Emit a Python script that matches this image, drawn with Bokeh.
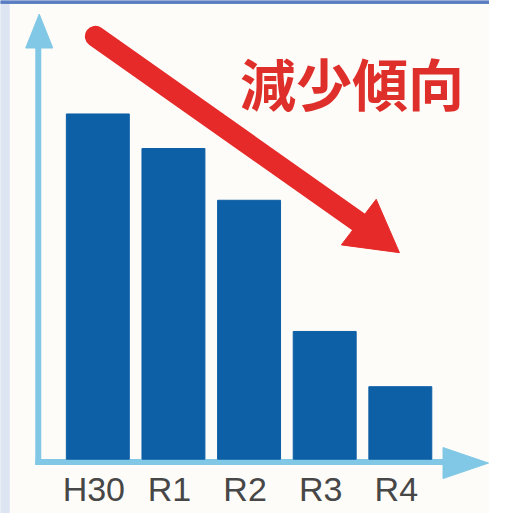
from bokeh.plotting import figure
from bokeh.models import Range1d
from bokeh.core.properties import value
from bokeh.embed import file_html
from bokeh.resources import INLINE

# Data
categories = ["H30", "R1", "R2", "R3", "R4"]
values = [100, 90, 75, 37, 21]
title_text = "減少傾向"

# Coordinate helpers (reference-pixel -> data) used only for decorations
X0, XSTEP = 100.5, 78.1      # px of first bar centre, px per category
Y0, YSTEP = 473.0, 3.56      # px of baseline, px per value unit


def dx(px):
    return (px - X0) / XSTEP


def dy(py):
    return (Y0 - py) / YSTEP


W, H = 489, 513
p = figure(width=W, height=H, output_backend="svg", toolbar_location=None,
           x_range=Range1d(dx(0), dx(505)), y_range=Range1d(dy(529), dy(0)),
           min_border=0)
p.axis.visible = False
p.grid.visible = False
p.outline_line_color = None
p.background_fill_color = "#fdfcf8"
p.border_fill_color = "#fdfcf8"

# Frame decorations: left strip and top stripe
p.quad(left=dx(0), right=dx(9), bottom=dy(529), top=dy(0), color="#dde5f3")
p.quad(left=dx(0), right=dx(505), bottom=dy(3), top=dy(0), color="#5b7fc2")

axis_col = "#80c8e6"
# y axis with arrowhead
p.line([dx(39), dx(39)], [dy(479), dy(44)], line_width=6, line_color=axis_col)
p.patch([dx(26), dx(40), dx(54)], [dy(49), dy(14), dy(49)], color=axis_col)
# x axis with arrowhead
p.line([dx(36), dx(460)], [dy(476), dy(476)], line_width=6, line_color=axis_col)
p.patch([dx(457), dx(504), dx(457)], [dy(461), dy(477), dy(493)], color=axis_col)

# Bars from data
xs = list(range(len(categories)))
p.vbar(x=xs, top=values, bottom=0, width=65 / XSTEP, color="#0d5fa6")

# Category labels
p.text(x=xs, y=[dy(504)] * len(xs), text=categories, x_offset=-4,
       text_align="center", text_baseline="middle",
       text_font=value("Liberation Sans"), text_font_size="34px",
       text_color="#474747")

# Red trend arrow
red = "#e62a2a"
p.line([dx(98), dx(372)], [dy(37), dy(230)], line_width=21, line_color=red,
       line_cap="round")
p.patch([dx(388), dx(352), dx(412)], [dy(205), dy(252), dy(260)], color=red)

# Title text
p.text(x=[dx(363)], y=[dy(84)], text=[title_text], text_align="center",
       text_baseline="middle", text_font=value("Noto Sans CJK JP"),
       text_font_style="bold", text_font_size="56px", text_color="#de2f2b")

open("out.html", "w").write(file_html(p, INLINE))
